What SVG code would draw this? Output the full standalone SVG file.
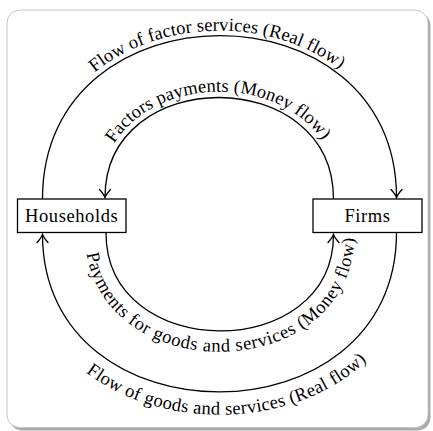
<svg xmlns="http://www.w3.org/2000/svg" width="433" height="431" viewBox="0 0 433 431">
<style>
.edge{fill:none;stroke:#000;stroke-width:1.3}
.box{fill:#fff;stroke:#000;stroke-width:1.3}
.lbl{font-family:"Liberation Serif","Times New Roman",serif;font-size:18.5px;fill:#000;letter-spacing:0.6px}
.arc{font-family:"Liberation Serif","Times New Roman",serif;font-size:18.5px;fill:#000;letter-spacing:0.1px}
.arc.wide{letter-spacing:0.6px}
.arc.mid{letter-spacing:0.3px}
</style>
<defs>
<marker id="arr" markerUnits="userSpaceOnUse" markerWidth="20" markerHeight="20" refX="0" refY="0" viewBox="-10 -10 20 20" orient="auto" overflow="visible">
<path d="M-8,-5.5 Q-3,-1 0,0 Q-3,1 -8,5.5" fill="none" stroke="#000" stroke-width="1.3" stroke-linecap="round"/>
</marker>
<path id="tpOuterTop" d="M37.5,199 C37.5,-25.4 401.5,-25.4 401.5,199"/>
<path id="tpInnerTop" d="M99,199 C99,55.9 339.5,55.9 339.5,199"/>
<path id="tpInnerBot" d="M85,232.7 C85,391.4 354.5,391.4 354.5,232.7"/>
<path id="tpOuterBot" d="M19.5,232.7 C19.5,475.4 419.5,475.4 419.5,232.7"/>
</defs>
<g id="frame">
<rect x="9.5" y="12.5" width="421" height="418" rx="13" fill="#aaa"/>
<rect x="7" y="10" width="421" height="417.5" rx="13" fill="#fff" stroke="#c8c8c8" stroke-width="1"/>
</g>
<g id="connectors">
<path class="edge" d="M42.5,199 C42.5,-18.7 396.5,-18.7 396.5,197.5" marker-end="url(#arr)"/>
<path class="edge" d="M333.5,199 C333.5,63.9 105,63.9 105,197.5" marker-end="url(#arr)"/>
<path class="edge" d="M106,232.7 C106,363.4 333.5,363.4 333.5,234.5" marker-end="url(#arr)"/>
<path class="edge" d="M396.5,232.7 C396.5,444.7 42.5,444.7 42.5,234.5" marker-end="url(#arr)"/>
<text class="arc"><textPath href="#tpOuterTop" startOffset="49.5%" text-anchor="middle">Flow of factor services (Real flow)</textPath></text>
<text class="arc"><textPath href="#tpInnerTop" startOffset="49.5%" text-anchor="middle">Factors payments (Money flow)</textPath></text>
<text class="arc wide"><textPath href="#tpInnerBot" startOffset="52%" text-anchor="middle">Payments for goods and services (Money flow)</textPath></text>
<text class="arc mid"><textPath href="#tpOuterBot" startOffset="51.5%" text-anchor="middle">Flow of goods and services (Real flow)</textPath></text>
</g>
<g id="households">
<rect class="box" x="17.5" y="199" width="108.5" height="33.5"/>
<text class="lbl" x="71.7" y="222.3" text-anchor="middle">Households</text>
</g>
<g id="firms">
<rect class="box" x="313" y="199" width="109" height="33.5"/>
<text class="lbl" x="367.5" y="222.3" text-anchor="middle">Firms</text>
</g>
</svg>
